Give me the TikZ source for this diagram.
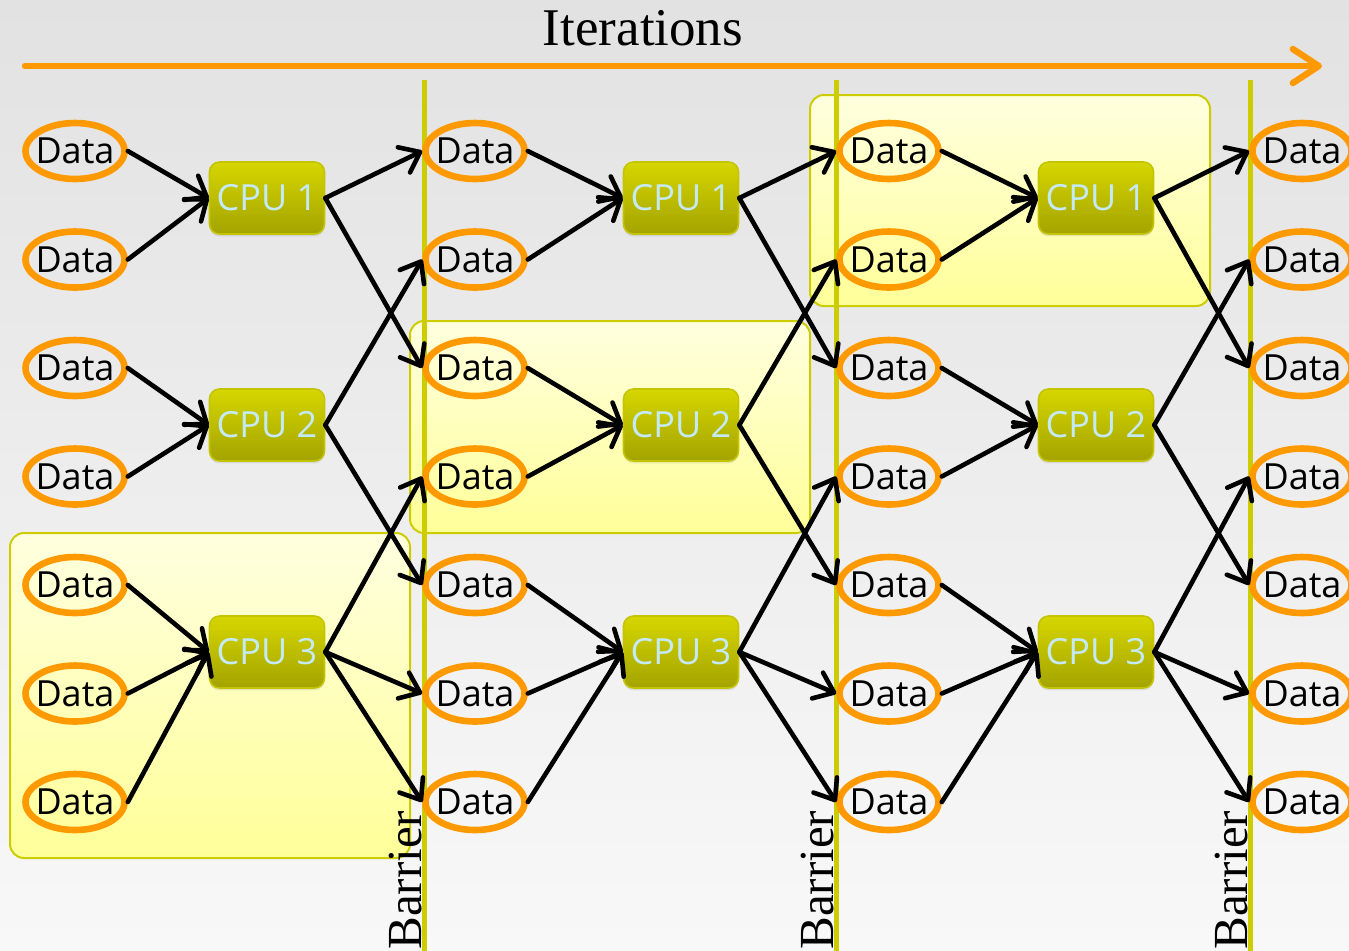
\documentclass[tikz,border=0pt]{standalone}
\usepackage{fontspec}
\setmainfont{Liberation Serif}
\newfontfamily\labelfont{Open Sans}
\usetikzlibrary{arrows.meta,shapes.geometric,shadows}

\definecolor{dataorange}{HTML}{FF9900}
\definecolor{barrierolive}{HTML}{CCCC00}
\definecolor{cputop}{HTML}{D6D600}
\definecolor{cpubot}{HTML}{A3A300}
\definecolor{cpuedge}{HTML}{C4C400}
\definecolor{cputext}{HTML}{C4EAF8}
\definecolor{hltop}{HTML}{FFFFDF}
\definecolor{hlbot}{HTML}{FFFF99}
\definecolor{bgtop}{HTML}{E2E2E2}
\definecolor{bgbot}{HTML}{F8F8F8}

\begin{document}
\begin{tikzpicture}[x=0.5pt,y=-0.5pt,
  datanode/.style={ellipse, draw=dataorange, line width=3.3pt,
    minimum width=49.5pt, minimum height=28pt, inner sep=0pt,
    font=\labelfont\fontsize{18}{18}\selectfont},
  cpunode/.style={rectangle, rounded corners=5pt, draw=cpuedge, line width=0.8pt,
    top color=cputop, bottom color=cpubot, text=cputext,
    minimum width=57.5pt, minimum height=36pt, inner sep=0pt,
    drop shadow={opacity=0.18, shadow xshift=0pt, shadow yshift=-1.2pt},
    font=\labelfont\fontsize{18}{18}\selectfont},
  hlbox/.style={rounded corners=7pt, draw=barrierolive, line width=1pt,
    top color=hltop, bottom color=hlbot},
  barrier/.style={draw=barrierolive, line width=2.5pt},
  flow/.style={line width=2.3pt, line cap=round,
    -{Straight Barb[length=9pt,width=14pt,round]}},
  iterarrow/.style={draw=dataorange, line width=3.2pt, line cap=round,
    -{Straight Barb[length=13pt,width=17pt,round]}},
  titlefont/.style={font=\fontsize{26.5}{26.5}\selectfont},
  barrierfont/.style={font=\fontsize{24.5}{24.5}\selectfont}
]
  % canvas
  \clip (0,0) rectangle (1349,950);
  \fill[top color=bgtop, bottom color=bgbot] (0,0) rectangle (1349,950);

  % title and iteration arrow
  \node[titlefont, anchor=base] (iterlabel) at (643,45) {Iterations};
  \coordinate (iterstart) at (25,66);
  \coordinate (iterend) at (1322,66);
  \draw[iterarrow] (iterstart) -- (iterend);

  % highlighted work groups
  \draw[hlbox] (10,533) rectangle (410,858);
  \draw[hlbox] (410,321) rectangle (810,533);
  \draw[hlbox] (810,95) rectangle (1210,306);

  % barriers
  \foreach \bx/\bn in {424/1,836/2,1250/3}{
    \draw[barrier] (\bx,80) -- (\bx,952);
    \node[barrierfont, rotate=90, anchor=base west, inner sep=0pt]
      (barlabel\bn) at (\bx-3,950) {Barrier};
  }

  % data items
  \foreach \c/\x in {1/75,2/475,3/889,4/1302}{
    \foreach \r in {1,...,7}{
      \node[datanode] (d\c-\r) at (\x,{151+108.5*(\r-1)}) {\makebox[0pt]{Data}};
    }
  }

  % processors
  \foreach \c/\x in {1/267,2/681,3/1096}{
    \foreach \k/\y in {1/198,2/425,3/652}{
      \node[cpunode] (p\c-\k) at (\x,\y) {CPU \k};
    }
  }

  % data flow
  \foreach \c in {1,2,3}{
    \foreach \r/\k in {1/1,2/1,3/2,4/2,5/3,6/3,7/3}{
      \draw[flow] (d\c-\r.east) -- (p\c-\k.west);
    }
    \pgfmathtruncatemacro\nxt{\c+1}
    \foreach \k/\r in {1/1,1/3,2/2,2/5,3/4,3/6,3/7}{
      \draw[flow] (p\c-\k.east) -- (d\nxt-\r.west);
    }
  }
\end{tikzpicture}
\end{document}
